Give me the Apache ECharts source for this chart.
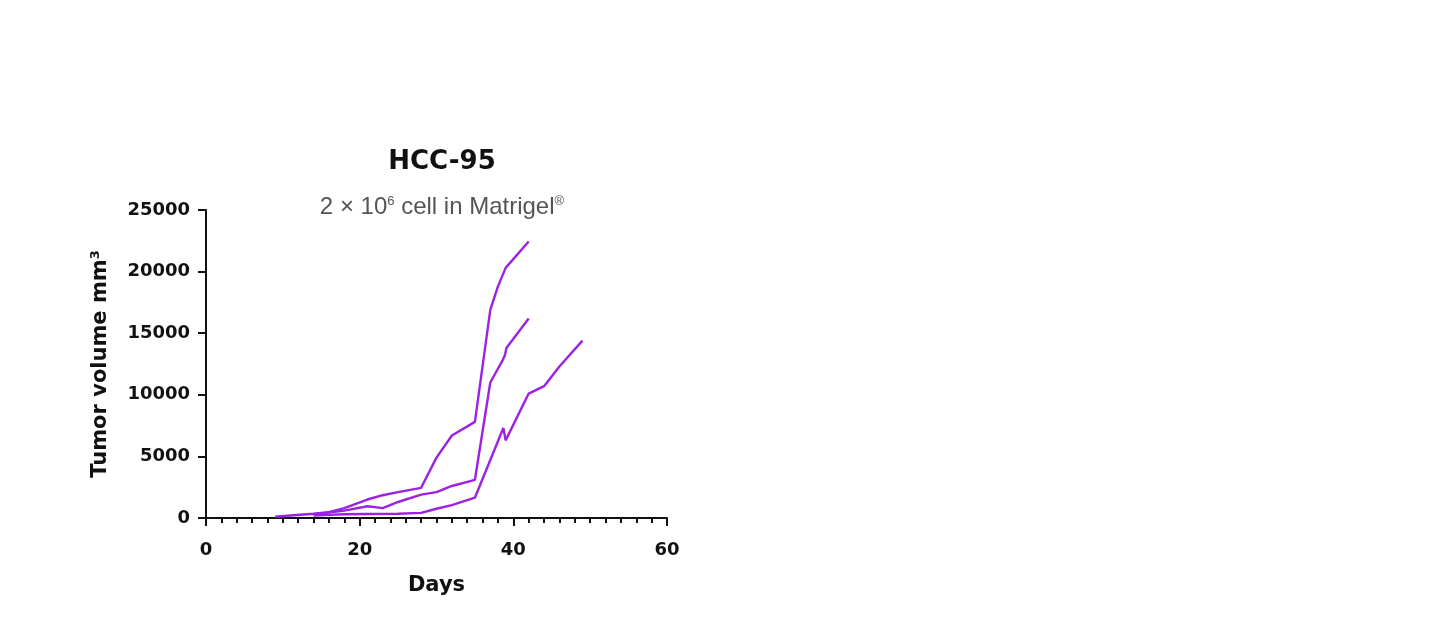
<!DOCTYPE html>
<html>
<head>
<meta charset="utf-8">
<script src="https://cdn.jsdelivr.net/npm/echarts@6/dist/echarts.min.js"></script>
<style>
  html, body { margin: 0; padding: 0; background: #ffffff; }
  #chart { width: 1451px; height: 618px; }
</style>
</head>
<body>
<div id="chart"></div>
<script>
// Series 1 (highest curve)
var daysA = [9, 11, 14, 16, 18, 21, 23, 25, 28, 30, 32, 35, 37, 38, 39, 42];
var volA  = [100, 200, 350, 480, 800, 1500, 1850, 2100, 2450, 4900, 6700, 7800, 16900, 18800, 20300, 22450];
// Series 2 (middle curve)
var daysB = [14, 16, 18, 21, 23, 25, 28, 30, 32, 35, 37, 38.6, 38.9, 39.1, 42];
var volB  = [300, 450, 600, 950, 800, 1300, 1900, 2100, 2600, 3100, 11000, 12800, 13200, 13800, 16200];
// Series 3 (lowest curve)
var daysC = [14, 16, 18, 21, 25, 28, 30, 32, 35, 38.7, 39, 42, 44, 46, 49];
var volC  = [200, 250, 300, 330, 350, 420, 750, 1050, 1650, 7300, 6300, 10100, 10700, 12300, 14400];

var xTicks = [0, 20, 40, 60];
var yTicks = [0, 5000, 10000, 15000, 20000, 25000];

function pairs(xs, ys) { return xs.map(function (x, i) { return [x, ys[i]]; }); }

var boldFont = '"DejaVu Sans", sans-serif';
var subFont = '"Liberation Sans", Arial, sans-serif';
var lineColor = '#9b22e3';
var chart = echarts.init(document.getElementById('chart'), null, { renderer: 'canvas' });
chart.setOption({
  backgroundColor: '#ffffff',
  animation: false,
  title: {
    text: 'HCC-95',
    subtext: '2 × 10{sup|6} cell in Matrigel{sup|®}',
    left: 437,
    top: 144,
    textAlign: 'center',
    itemGap: 20,
    textStyle: { fontFamily: boldFont, fontWeight: 'bold', fontSize: 26, color: '#111111' },
    subtextStyle: {
      fontFamily: subFont, fontSize: 24, color: '#555555',
      rich: { sup: { fontSize: 13, verticalAlign: 'top', color: '#555555', fontFamily: subFont, padding: [0, 0, 11, 0] } }
    }
  },
  grid: { left: 206, right: 784, top: 210, bottom: 100, containLabel: false },
  xAxis: {
    type: 'value', min: 0, max: 60, interval: 20,
    name: 'Days', nameLocation: 'middle', nameGap: 57,
    nameTextStyle: { fontFamily: boldFont, fontWeight: 'bold', fontSize: 21, color: '#111111' },
    axisLine: { show: true, onZero: false, lineStyle: { color: '#111111', width: 2 } },
    axisTick: { show: true, length: 8, lineStyle: { color: '#111111', width: 2 } },
    minorTick: { show: true, splitNumber: 10, length: 5, lineStyle: { color: '#111111', width: 2 } },
    splitLine: { show: false },
    axisLabel: { margin: 23, fontFamily: boldFont, fontWeight: 'bold', fontSize: 18, color: '#111111',
      formatter: function (v) { return xTicks.indexOf(v) >= 0 ? String(v) : ''; } }
  },
  yAxis: {
    type: 'value', min: 0, max: 25000, interval: 5000,
    name: 'Tumor volume mm{sup|3}', nameLocation: 'middle', nameGap: 94,
    nameTextStyle: { fontFamily: boldFont, fontWeight: 'bold', fontSize: 21, color: '#111111',
      rich: { sup: { fontFamily: boldFont, fontWeight: 'bold', fontSize: 13, color: '#111111', verticalAlign: 'top', padding: [0, 0, 10, 0] } } },
    axisLine: { show: true, lineStyle: { color: '#111111', width: 2 } },
    axisTick: { show: true, length: 8, lineStyle: { color: '#111111', width: 2 } },
    splitLine: { show: false },
    axisLabel: { margin: 16, fontFamily: boldFont, fontWeight: 'bold', fontSize: 18, color: '#111111',
      formatter: function (v) { return yTicks.indexOf(v) >= 0 ? String(v) : ''; } }
  },
  series: [
    { type: 'line', data: pairs(daysA, volA), showSymbol: false, lineStyle: { color: lineColor, width: 2.4 }, itemStyle: { color: lineColor } },
    { type: 'line', data: pairs(daysB, volB), showSymbol: false, lineStyle: { color: lineColor, width: 2.4 }, itemStyle: { color: lineColor } },
    { type: 'line', data: pairs(daysC, volC), showSymbol: false, lineStyle: { color: lineColor, width: 2.4 }, itemStyle: { color: lineColor } }
  ]
});
</script>
</body>
</html>
